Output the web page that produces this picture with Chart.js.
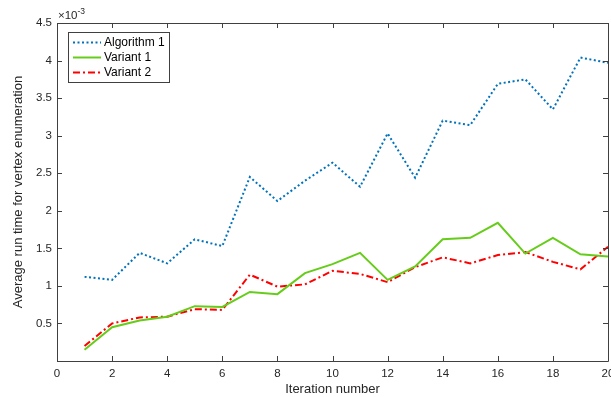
<!DOCTYPE html>
<html>
<head>
<meta charset="utf-8">
<script src="https://cdn.jsdelivr.net/npm/chart.js@4.4.0/dist/chart.umd.min.js"></script>
<style>
  html, body { margin: 0; padding: 0; background: #fff; }
  #wrap { width: 611px; height: 397px; }
</style>
</head>
<body>
<div id="wrap"><canvas id="myChart" width="611" height="397"></canvas></div>
<script>
// iteration numbers and average run times (seconds)
const iterations = [1, 2, 3, 4, 5, 6, 7, 8, 9, 10, 11, 12, 13, 14, 15, 16, 17, 18, 19, 20];
const algorithm1 = [1.12e-3, 1.08e-3, 1.44e-3, 1.30e-3, 1.62e-3, 1.53e-3, 2.45e-3, 2.13e-3, 2.40e-3, 2.64e-3,
                    2.32e-3, 3.03e-3, 2.44e-3, 3.20e-3, 3.14e-3, 3.69e-3, 3.75e-3, 3.35e-3, 4.04e-3, 3.97e-3];
const variant1 = [0.15e-3, 0.45e-3, 0.54e-3, 0.59e-3, 0.73e-3, 0.72e-3, 0.92e-3, 0.89e-3, 1.17e-3, 1.29e-3,
                  1.44e-3, 1.08e-3, 1.26e-3, 1.62e-3, 1.64e-3, 1.84e-3, 1.43e-3, 1.64e-3, 1.42e-3, 1.39e-3];
const variant2 = [0.20e-3, 0.50e-3, 0.58e-3, 0.59e-3, 0.69e-3, 0.68e-3, 1.15e-3, 0.99e-3, 1.02e-3, 1.20e-3,
                  1.16e-3, 1.05e-3, 1.25e-3, 1.38e-3, 1.30e-3, 1.41e-3, 1.45e-3, 1.32e-3, 1.22e-3, 1.52e-3];
const seriesNames = ['Algorithm 1', 'Variant 1', 'Variant 2'];

const FONT = 'Helvetica, "Liberation Sans", Arial, sans-serif';
const AXIS = '#404040';

function pts(ys) {
    return iterations.map((x, i) => ({ x: x, y: ys[i] }));
}

// frame, inward ticks on all sides, exponent label and legend
const matlabLook = {
    id: 'matlabLook',
    afterDraw(chart) {
        const ctx = chart.ctx;
        const a = chart.chartArea;
        const xs = chart.scales.x, ys = chart.scales.y;
        const tl = 5;
        ctx.save();
        ctx.strokeStyle = AXIS;
        ctx.lineWidth = 1;
        ctx.beginPath();
        ctx.rect(Math.round(a.left) + 0.5, Math.round(a.top) + 0.5,
                 Math.round(a.right - a.left), Math.round(a.bottom - a.top));
        xs.ticks.forEach(t => {
            const px = Math.round(xs.getPixelForValue(t.value)) + 0.5;
            ctx.moveTo(px, a.bottom); ctx.lineTo(px, a.bottom - tl);
            ctx.moveTo(px, a.top); ctx.lineTo(px, a.top + tl);
        });
        ys.ticks.forEach(t => {
            const py = Math.round(ys.getPixelForValue(t.value)) + 0.5;
            ctx.moveTo(a.left, py); ctx.lineTo(a.left + tl, py);
            ctx.moveTo(a.right, py); ctx.lineTo(a.right - tl, py);
        });
        ctx.stroke();

        // x10^-3
        ctx.fillStyle = '#262626';
        ctx.textBaseline = 'alphabetic';
        ctx.textAlign = 'left';
        ctx.font = '11.5px ' + FONT;
        ctx.fillText('\u00d710', a.left + 1, a.top - 4);
        const w = ctx.measureText('\u00d710').width;
        ctx.font = '8.5px ' + FONT;
        ctx.fillText('-3', a.left + 1 + w, a.top - 9);

        // legend
        const lx = 68, ly = 32, lw = 101, lh = 50;
        ctx.fillStyle = '#fff';
        ctx.fillRect(lx, ly, lw, lh);
        ctx.strokeStyle = AXIS;
        ctx.strokeRect(lx + 0.5, ly + 0.5, lw, lh);
        ctx.font = '12px ' + FONT;
        ctx.textBaseline = 'middle';
        chart.data.datasets.forEach((ds, i) => {
            const y = ly + 10.5 + i * 15;
            ctx.beginPath();
            ctx.strokeStyle = ds.borderColor;
            ctx.lineWidth = ds.borderWidth;
            ctx.setLineDash(ds.borderDash || []);
            ctx.moveTo(73, y); ctx.lineTo(101, y);
            ctx.stroke();
            ctx.setLineDash([]);
            ctx.fillStyle = '#000';
            ctx.fillText(ds.label, 104, y);
        });
        ctx.restore();
    }
};

new Chart(document.getElementById('myChart'), {
    type: 'line',
    data: {
        datasets: [{
            label: seriesNames[0],
            data: pts(algorithm1),
            borderColor: '#0072BD',
            borderWidth: 2,
            borderDash: [2, 2.5],
            pointRadius: 0,
            tension: 0
        }, {
            label: seriesNames[1],
            data: pts(variant1),
            borderColor: '#66CC1A',
            borderWidth: 2,
            pointRadius: 0,
            tension: 0
        }, {
            label: seriesNames[2],
            data: pts(variant2),
            borderColor: '#FF0000',
            borderWidth: 2,
            borderDash: [7, 3, 2, 3],
            pointRadius: 0,
            tension: 0
        }]
    },
    options: {
        responsive: false,
        animation: false,
        layout: { padding: { top: 23, right: 3, left: 0, bottom: 0 } },
        plugins: { legend: { display: false }, tooltip: { enabled: false } },
        scales: {
            x: {
                type: 'linear',
                min: 0,
                max: 20,
                grid: { display: false, drawTicks: false },
                border: { display: false },
                ticks: {
                    stepSize: 2,
                    padding: 6,
                    color: '#262626',
                    font: { family: FONT, size: 11.5 },
                    maxRotation: 0
                },
                title: {
                    display: true,
                    text: 'Iteration number',
                    color: '#262626',
                    font: { family: FONT, size: 13 },
                    padding: { top: 2, bottom: 0 }
                },
                afterFit(scale) {
                    scale.height = 36;
                    scale.paddingLeft = 0;
                    scale.paddingRight = 0;
                }
            },
            y: {
                min: 0,
                max: 0.0045,
                grid: { display: false, drawTicks: false },
                border: { display: false },
                ticks: {
                    stepSize: 0.0005,
                    padding: 5,
                    color: '#262626',
                    font: { family: FONT, size: 11.5 },
                    callback: v => {
                        const s = Math.round(v * 10000) / 10;
                        return s === 0 ? '' : String(s);
                    }
                },
                title: {
                    display: true,
                    text: 'Average run time for vertex enumeration',
                    color: '#262626',
                    font: { family: FONT, size: 13 },
                    padding: { top: 11, bottom: 0 }
                },
                afterFit(scale) {
                    scale.width = 57;
                    scale.paddingTop = 0;
                    scale.paddingBottom = 0;
                }
            }
        }
    },
    plugins: [matlabLook]
});
</script>
</body>
</html>
